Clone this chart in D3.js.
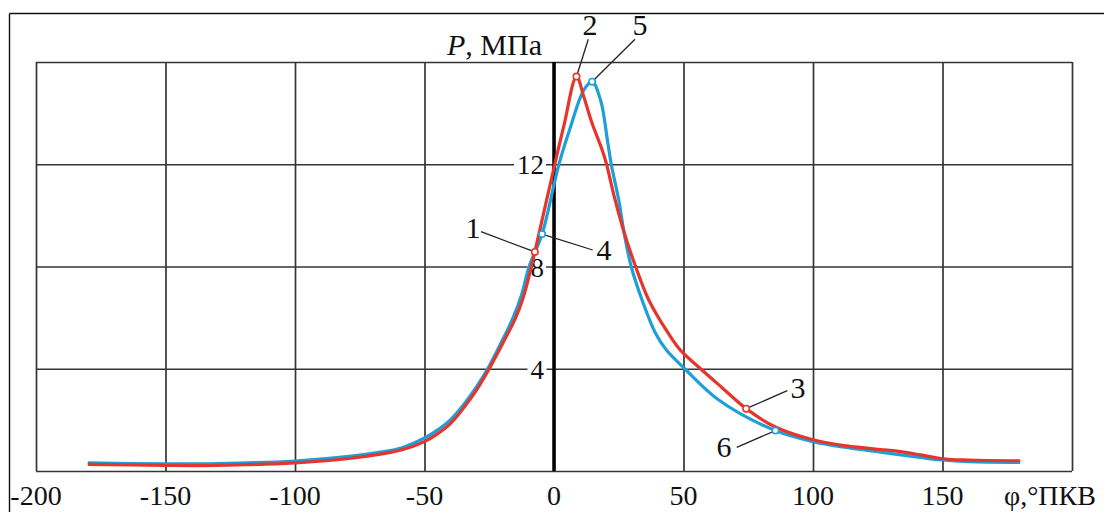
<!DOCTYPE html>
<html><head><meta charset="utf-8">
<script src="https://cdn.jsdelivr.net/npm/d3@7/dist/d3.min.js"></script>
<style>
html,body{margin:0;padding:0;background:#fff;}
svg{display:block;font-family:"Liberation Serif","Times New Roman",serif;}
</style></head>
<body><svg id="chart" width="1104" height="512"></svg>
<script>
// ---- data ----
const xTicks = [-200, -150, -100, -50, 0, 50, 100, 150, 200];
const xTickLabels = ["-200", "-150", "-100", "-50", "0", "50", "100", "150", ""];
const yTicks = [0, 4, 8, 12, 16];
const yTickLabels = ["", "4", "8", "12", ""];
const xTitle = "φ,°ПКВ";
const yTitleItalic = "P";
const yTitleRest = ", МПа";

const redPhi = [-180, -150, -130, -100, -80, -67, -59, -50, -45, -40, -35, -30, -25, -20, -15, -12, -8.7, -7.4, 0.3, 3.8, 8.7, 11.5, 14.7, 18.6, 20.3, 23.1, 27, 31.5, 36.6, 44.1, 48.8, 56.6, 65, 74.2, 85.5, 100, 113, 126, 132.5, 141.5, 150, 160, 180];
const redP   = [0.26, 0.22, 0.22, 0.32, 0.48, 0.66, 0.82, 1.15, 1.45, 1.85, 2.45, 3.15, 4.0, 4.95, 5.95, 6.75, 8.0, 8.57, 12.0, 13.5, 15.43, 14.64, 13.6, 12.56, 12.0, 10.8, 9.36, 8.0, 6.69, 5.39, 4.73, 4.0, 3.25, 2.44, 1.72, 1.22, 0.98, 0.84, 0.78, 0.63, 0.48, 0.43, 0.40];
const bluePhi = [-180, -150, -130, -100, -80, -67, -59, -50, -45, -40, -35, -30, -25.6, -20.5, -15.8, -12.5, -9.6, -4.6, 1.9, 6.4, 11.5, 14.7, 18, 20.8, 22.1, 25, 27, 29.8, 34, 39.2, 43.4, 50.5, 63.6, 85.5, 100, 113, 126, 141.5, 150, 160, 180];
const blueP   = [0.32, 0.28, 0.29, 0.39, 0.56, 0.74, 0.90, 1.29, 1.6, 2.0, 2.58, 3.28, 4.0, 5.0, 6.0, 6.9, 8.0, 9.27, 12.0, 13.47, 14.9, 15.23, 14.5, 12.82, 12.0, 10.6, 9.36, 8.0, 6.69, 5.39, 4.73, 4.0, 2.78, 1.58, 1.15, 0.92, 0.74, 0.53, 0.43, 0.37, 0.34];

// marked points
const markLabels = ["1", "2", "3", "4", "5", "6"];
const markSeries = ["red", "red", "red", "blue", "blue", "blue"];
const markPhi = [-7.4, 8.7, 74.2, -4.6, 14.7, 85.5];
const markP = [8.57, 15.43, 2.44, 9.27, 15.23, 1.58];

// ---- layout ----
const svg = d3.select("#chart");
const colors = {red: "#e5352c", blue: "#1e9fd7"};
const x = d3.scaleLinear().domain([-200, 200]).range([36, 1072]);
const y = d3.scaleLinear().domain([0, 16]).range([471, 62]);

svg.append("rect").attr("width", 1104).attr("height", 512).attr("fill", "#fff");
// frame
svg.append("line").attr("x1", 9.5).attr("x2", 1104).attr("y1", 13.5).attr("y2", 13.5).attr("stroke", "#111").attr("stroke-width", 1.4);
svg.append("line").attr("x1", 9.5).attr("x2", 9.5).attr("y1", 13.5).attr("y2", 512).attr("stroke", "#111").attr("stroke-width", 1.4);

// grid via axes
const gx = svg.append("g").attr("transform", `translate(0,${y(0)})`)
  .call(d3.axisBottom(x).tickValues(xTicks).tickSize(-(y(0) - y(16))).tickFormat(""));
gx.select(".domain").remove();
gx.selectAll(".tick line").attr("stroke", "#353535").attr("stroke-width", 1.7);
const gy = svg.append("g").attr("transform", `translate(${x(-200)},0)`)
  .call(d3.axisLeft(y).tickValues(yTicks).tickSize(-(x(200) - x(-200))).tickFormat(""));
gy.select(".domain").remove();
gy.selectAll(".tick line").attr("stroke", "#353535").attr("stroke-width", 1.7);

// x tick labels
xTicks.forEach((t, i) => {
  if (!xTickLabels[i]) return;
  svg.append("text").attr("x", x(t)).attr("y", 505).attr("text-anchor", "middle")
    .attr("font-size", 28).attr("fill", "#111").text(xTickLabels[i]);
});
svg.append("text").attr("x", 1004).attr("y", 505).attr("font-size", 28).attr("fill", "#111").text(xTitle);

// y tick labels with white knockout
yTicks.forEach((t, i) => {
  if (!yTickLabels[i]) return;
  const g = svg.append("g");
  const tx = g.append("text").attr("x", 544).attr("y", y(t) + 10).attr("text-anchor", "end")
    .attr("font-size", 27).attr("fill", "#111").text(yTickLabels[i]);
  const bb = tx.node().getBBox();
  g.insert("rect", "text").attr("x", bb.x - 3).attr("y", y(t) - 4).attr("width", bb.width + 5).attr("height", 8).attr("fill", "#fff");
});

// y title
const yt = svg.append("text").attr("x", 447).attr("y", 55).attr("font-size", 30).attr("fill", "#111");
yt.append("tspan").attr("font-style", "italic").text(yTitleItalic);
yt.append("tspan").text(yTitleRest);

// zero axis
svg.append("line").attr("x1", x(0)).attr("x2", x(0)).attr("y1", y(16)).attr("y2", y(0)).attr("stroke", "#000").attr("stroke-width", 3.5);

// curves
const line = d3.line().x(d => x(d[0])).y(d => y(d[1])).curve(d3.curveCatmullRom.alpha(0.5));
const blueData = bluePhi.map((p, i) => [p, blueP[i]]);
const redData = redPhi.map((p, i) => [p, redP[i]]);
svg.append("path").datum(blueData).attr("d", line).attr("fill", "none").attr("stroke", colors.blue).attr("stroke-width", 3.2);
svg.append("path").datum(redData).attr("d", line).attr("fill", "none").attr("stroke", colors.red).attr("stroke-width", 3.2);

// leader lines and labels
const labelPos = {
  "1": {lx: 473, ly: 238, ax: 481, ay: 231.7},
  "2": {lx: 590, ly: 35, ax: 588.3, ay: 39.3},
  "3": {lx: 798, ly: 398, ax: 787.3, ay: 390.7},
  "4": {lx: 604, ly: 260, ax: 592.7, ay: 250},
  "5": {lx: 640, ly: 35, ax: 635, ay: 39.3},
  "6": {lx: 724, ly: 457, ax: 736.7, ay: 447.3}
};
markLabels.forEach((lab, i) => {
  const mx = x(markPhi[i]), my = y(markP[i]);
  const lp = labelPos[lab];
  svg.append("line").attr("x1", lp.ax).attr("y1", lp.ay).attr("x2", mx).attr("y2", my)
    .attr("stroke", "#222").attr("stroke-width", 1.3);
  svg.append("circle").attr("cx", mx).attr("cy", my).attr("r", 3.2)
    .attr("fill", "#fff").attr("stroke", colors[markSeries[i]]).attr("stroke-width", 1.6);
  svg.append("text").attr("x", lp.lx).attr("y", lp.ly).attr("text-anchor", "middle")
    .attr("font-size", 30).attr("fill", "#111").text(lab);
});
</script></body></html>
